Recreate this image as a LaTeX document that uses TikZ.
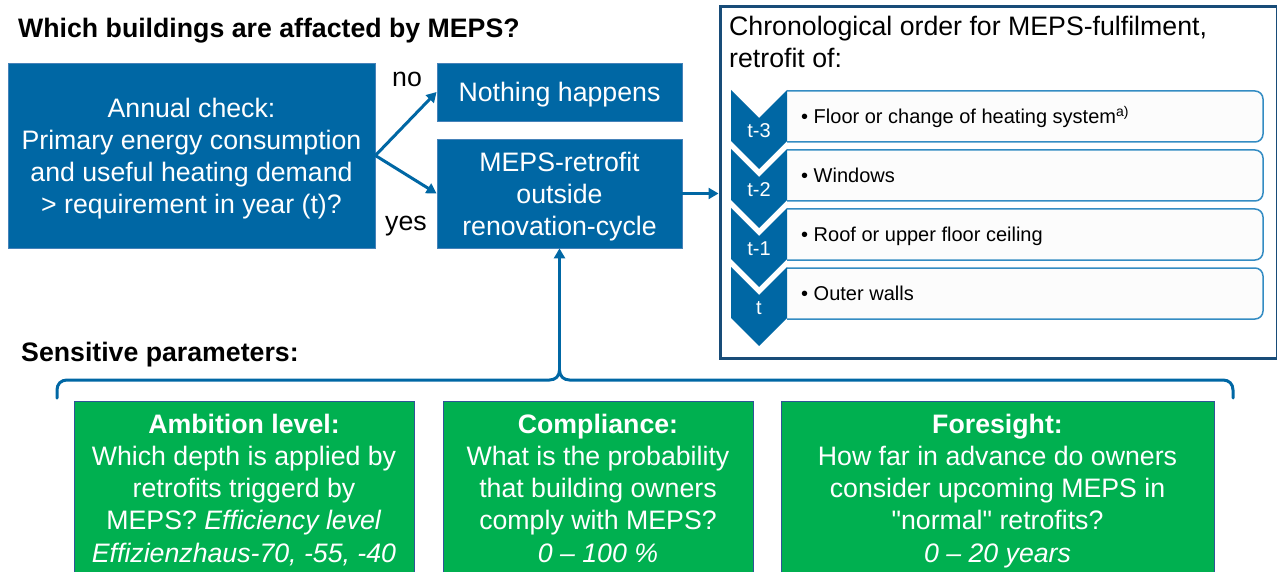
\documentclass[tikz,border=0pt]{standalone}
\usepackage{fontspec}
\setmainfont{Liberation Sans}
\usetikzlibrary{arrows.meta}

\definecolor{boxblue}{RGB}{0,103,164}
\definecolor{boxedge}{RGB}{70,130,185}
\definecolor{framenavy}{RGB}{24,76,120}
\definecolor{itemline}{RGB}{52,140,195}
\definecolor{itemfill}{RGB}{252,252,252}
\definecolor{paramgreen}{RGB}{0,176,80}
\definecolor{paramedge}{RGB}{47,85,151}

\newcommand{\bigfont}{\fontsize{26.7}{32}\selectfont}
\newcommand{\parfont}{\fontsize{26.7}{32.25}\selectfont}
\newcommand{\itemfont}{\fontsize{20}{24}\selectfont}
% invisible strut that lifts the top of a text block
\newcommand{\topstrut}[1]{\rule{0pt}{#1}}

\tikzset{
  bluebox/.style={fill=boxblue, draw=boxedge, line width=0.8pt, text=white,
    align=center, font=\bigfont, inner sep=0pt},
  oneline/.style={text height=19.1pt, text depth=0pt},
  plain/.style={inner sep=0pt, font=\bigfont},
  heading/.style={inner sep=0pt, font=\bfseries\bigfont, text height=19.1pt, text depth=0pt},
  flow/.style={draw=boxblue, line width=3pt, -{Triangle[length=10pt,width=11pt]}},
  brace/.style={draw=boxblue, line width=3pt, line cap=round, line join=round},
  itembox/.style={fill=itemfill, draw=itemline, line width=1.5pt},
  chevron/.style={fill=boxblue},
  chevlabel/.style={inner sep=0pt, text=white, font=\itemfont, text height=14.3pt, text depth=0pt},
  itemtext/.style={inner sep=0pt, font=\itemfont, text height=14.3pt, text depth=0pt, anchor=west},
  parambox/.style={fill=paramgreen, draw=paramedge, line width=1.2pt, anchor=north west, inner sep=0pt},
  paramtext/.style={inner sep=0pt, text=white, align=center, font=\parfont, anchor=north}
}

\begin{document}
\begin{tikzpicture}[x=1pt,y=-1pt]
\useasboundingbox (0,0) rectangle (1277,572);
\clip (0,0) rectangle (1277,572);

% headings
\node[heading, anchor=west] (title) at (18,28) {Which buildings are affacted by MEPS?};
\node[heading, anchor=west] (sens) at (21,351.5) {Sensitive parameters:};

% decision flow
\node[bluebox, minimum width=367pt, minimum height=185pt] (check) at (191.5,155.5)
  {\topstrut{25.5pt}Annual check:\\Primary energy consumption\\and useful heating demand\\> requirement in year (t)?};
\node[bluebox, oneline, minimum width=245pt, minimum height=58pt] (nothing) at (559.5,92)
  {Nothing happens};
\node[bluebox, minimum width=245pt, minimum height=109pt] (meps) at (559.5,193.5)
  {\topstrut{26.5pt}MEPS-retrofit\\outside\\renovation-cycle};

\node[plain, anchor=base] (no) at (407,86.5) {no};
\node[plain, anchor=base] (yes) at (406,230) {yes};

\draw[flow] (check.east) -- (nothing.west);
\draw[flow] (check.east) -- (meps.west);

% chronological order panel
\node[draw=framenavy, line width=3pt, fill=white, anchor=north west, inner sep=0pt,
  minimum width=557pt, minimum height=352pt] (chrono) at (718.5,5) {};
\draw[flow] (meps.east) -- (meps.east -| chrono.west);

\node[plain, anchor=north west, align=left] (chronohead) at (729,16)
  {Chronological order for MEPS-fulfilment,\\retrofit of:};

\foreach \y/\lab/\txt/\nm in {
    90/t-3/{Floor or change of heating system\textsuperscript{a)}}/s3,
    149/t-2/{Windows}/s2,
    208/t-1/{Roof or upper floor ceiling}/s1,
    267/t/{Outer walls}/s0} {
  \filldraw[itembox] (787,\y+1) [rounded corners=8pt] -- (1263,\y+1) -- (1263,\y+52) -- (787,\y+52);
  \fill[chevron] (731,\y) -- (759,\y+28) -- (787,\y) -- (787,\y+51) -- (759,\y+79) -- (731,\y+51) -- cycle;
  \node[chevlabel] (lab\nm) at (759,\y+40) {\lab};
  \node[itemtext] (item\nm) at (801,\y+26.5) {\textbullet{} \txt};
}

% brace gathering the parameters
\coordinate (bracetip) at (559.5,370);
\draw[brace] (57,398) -- (57,390) .. controls (57,384) and (61,380) .. (67,380)
  -- (549.5,380) .. controls (555.5,380) and (559.5,376) .. (bracetip)
  .. controls (559.5,376) and (563.5,380) .. (569.5,380)
  -- (1223,380) .. controls (1229,380) and (1233,384) .. (1233,390) -- (1233,398);
\draw[flow] (bracetip) -- (meps.south);

% sensitive parameters
\node[parambox, minimum width=340pt, minimum height=200pt] (ambition) at (74,400.5) {};
\node[parambox, minimum width=310pt, minimum height=200pt] (compliance) at (443,400.5) {};
\node[parambox, minimum width=433pt, minimum height=200pt] (foresight) at (781,400.5) {};

\node[paramtext] (ambitiontxt) at (244,413.5)
  {\textbf{Ambition level:}\\Which depth is applied by\\retrofits triggerd by\\MEPS? \textit{Efficiency level}\\\textit{Effizienzhaus-70, -55, -40}};
\node[paramtext] (compliancetxt) at (598,413.5)
  {\textbf{Compliance:}\\What is the probability\\that building owners\\comply with MEPS?\\\textit{0 -- 100 \%}};
\node[paramtext] (foresighttxt) at (997.5,413.5)
  {\textbf{Foresight:}\\How far in advance do owners\\consider upcoming MEPS in\\\textquotedbl normal\textquotedbl{} retrofits?\\\textit{0 -- 20 years}};
\end{tikzpicture}
\end{document}
